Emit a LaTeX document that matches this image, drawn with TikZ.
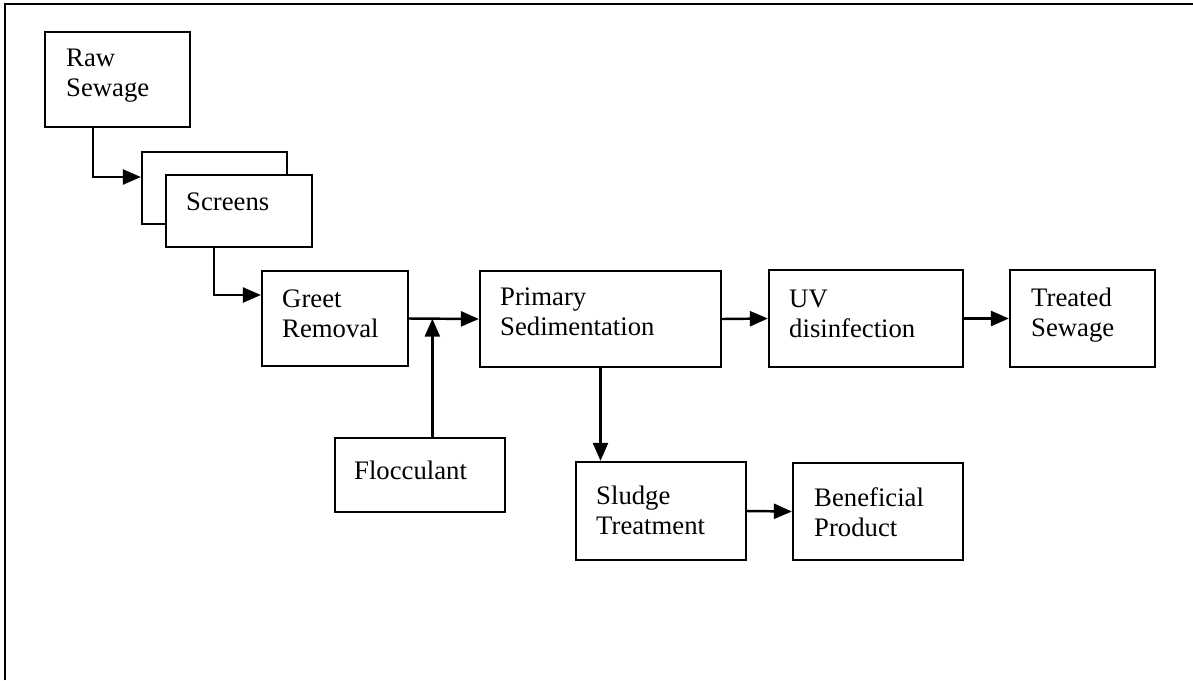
\documentclass[tikz,border=0pt]{standalone}
\usepackage{fontspec}
\setmainfont{Liberation Serif}
\usetikzlibrary{arrows.meta,calc}

\tikzset{
    stage/.style={draw,black,line width=1.3pt,fill=white,inner sep=0pt},
    txt/.style={anchor=north west,align=left,inner sep=0pt,font=\fontsize{15.2}{17.1}\selectfont},
    flow/.style={-{Triangle[length=0.36cm,width=0.3cm]},black,line width=1.4pt}
}

\begin{document}
\begin{tikzpicture}[x=0.02cm,y=-0.02cm]
    \useasboundingbox (0,0) rectangle (1193,680);
    \draw [black,line width=1pt](5,680) -- (5,4) -- (1193,4);
    \node[stage,minimum width=2.9cm,minimum height=1.9cm] (raw) at (117.5,79.5) {};
    \node[stage,minimum width=2.9cm,minimum height=1.44cm] (scrback) at (214.5,188) {};
    \node[stage,minimum width=2.92cm,minimum height=1.44cm] (scr) at (239,211) {};
    \node[stage,minimum width=2.92cm,minimum height=1.9cm] (greet) at (335,318.5) {};
    \node[stage,minimum width=4.82cm,minimum height=1.92cm] (prim) at (600.5,319) {};
    \node[stage,minimum width=3.88cm,minimum height=1.94cm] (uv) at (866,318.5) {};
    \node[stage,minimum width=2.9cm,minimum height=1.94cm] (treat) at (1082.5,318.5) {};
    \node[stage,minimum width=3.4cm,minimum height=1.48cm] (floc) at (420,475) {};
    \node[stage,minimum width=3.4cm,minimum height=1.96cm] (sludge) at (661,511) {};
    \node[stage,minimum width=3.4cm,minimum height=1.94cm] (benef) at (878,511.5) {};
    \node[txt] (rawtxt) at ([shift={(0.44cm,-0.36cm)}]raw.north west) {Raw\\Sewage};
    \node[txt] (scrtxt) at ([shift={(0.42cm,-0.38cm)}]scr.north west) {Screens};
    \node[txt] (greettxt) at ([shift={(0.42cm,-0.4cm)}]greet.north west) {Greet\\Removal};
    \node[txt] (primtxt) at ([shift={(0.42cm,-0.36cm)}]prim.north west) {Primary\\Sedimentation};
    \node[txt] (uvtxt) at ([shift={(0.42cm,-0.42cm)}]uv.north west) {UV\\disinfection};
    \node[txt] (treattxt) at ([shift={(0.44cm,-0.38cm)}]treat.north west) {Treated\\Sewage};
    \node[txt] (floctxt) at ([shift={(0.4cm,-0.48cm)}]floc.north west) {Flocculant};
    \node[txt] (sludgetxt) at ([shift={(0.42cm,-0.5cm)}]sludge.north west) {Sludge\\Treatment};
    \node[txt] (beneftxt) at ([shift={(0.44cm,-0.5cm)}]benef.north west) {Beneficial\\Product};
    \coordinate (mix) at ($(greet.east)!0.333!(prim.west)$);
    \draw [flow]([xshift=-0.49cm]raw.south) |- ([yshift=0.22cm]scrback.west);
    \draw [flow]([xshift=-0.5cm]scr.south) |- ([yshift=0.47cm]greet.west);
    \draw [flow](greet.east) -- (prim.west);
    \draw [flow](floc.north -| mix) -- (mix);
    \draw [flow](prim.east) -- (uv.west);
    \draw [flow](uv.east) -- (treat.west);
    \draw [flow](prim.south) -- (prim.south |- sludge.north);
    \draw [flow](sludge.east) -- (benef.west);
\end{tikzpicture}
\end{document}
